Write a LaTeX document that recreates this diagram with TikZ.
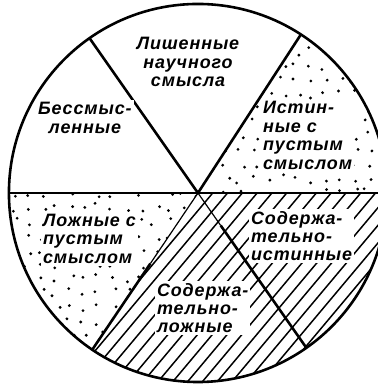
\documentclass[tikz,border=0pt]{standalone}
\usepackage{fontspec}
\setmainfont{Liberation Sans}
\newfontfamily\sectorfont[LetterSpace=5]{Liberation Sans}
\begin{document}
\begin{tikzpicture}[
    every node/.style={font=\sectorfont\bfseries\itshape\fontsize{18}{18.5}\selectfont,
      align=left, inner sep=2pt, fill=white},
    border/.style={line width=2.6pt},
    hatch/.style={line width=1.5pt},
  ]
  \def\R{6.67}
  \pgfmathsetseed{12}
  \useasboundingbox (-6.985,-6.74) rectangle (6.35,6.81);
  % dotted sectors
  \foreach \from/\to in {0/57,180/236}{
    \begin{scope}
      \clip (0,0) -- (\from:\R) arc[start angle=\from, end angle=\to, radius=\R] -- cycle;
      \foreach \i in {-14,...,14}
        \foreach \j in {-14,...,14}
          \fill ({\i*0.5+0.15*rand},{\j*0.5+0.15*rand}) circle (0.055);
    \end{scope}
  }
  % hatched sectors
  \begin{scope}
    \clip (0,0) -- (236:\R) arc[start angle=236, end angle=360, radius=\R] -- cycle;
    \begin{scope}[rotate=50]
      \foreach \k in {-20,...,20}
        \draw[hatch] (-8,\k*0.4) -- (8,\k*0.4);
    \end{scope}
  \end{scope}
  % circle and dividing lines
  \draw[border] (0,0) circle (\R);
  \draw[border] (180:\R) -- (0:\R);
  \draw[border] (0,0) -- (57:\R);
  \draw[border] (0,0) -- (125:\R);
  \draw[line width=1.2pt] (0,0) -- (236:3);
  \draw[border] (236:3) -- (236:\R);
  \draw[line width=1.2pt] (0,0) -- (305:1.4);
  \draw[border] (305:1.4) -- (305:\R);
  % labels
  \node[align=center] (nosense) at (-0.35,4.62) {Лишенные\\научного\\смысла};
  \node[align=center] (meaningless) at (-3.99,2.65) {Бессмыс-\\ленные};
  \node[anchor=west] (emptytrue) at (2.22,2.03) {Истин-\\ные с\\пустым\\смыслом};
  \node[anchor=west] (emptyfalse) at (-5.54,-1.62) {Ложные с\\пустым\\смыслом};
  \node[anchor=west] (factualtrue) at (1.80,-1.52) {Содержа-\\тельно-\\истинные};
  \node[anchor=west] (factualfalse) at (-1.52,-4.06) {Содержа-\\тельно-\\ложные};
\end{tikzpicture}
\end{document}
